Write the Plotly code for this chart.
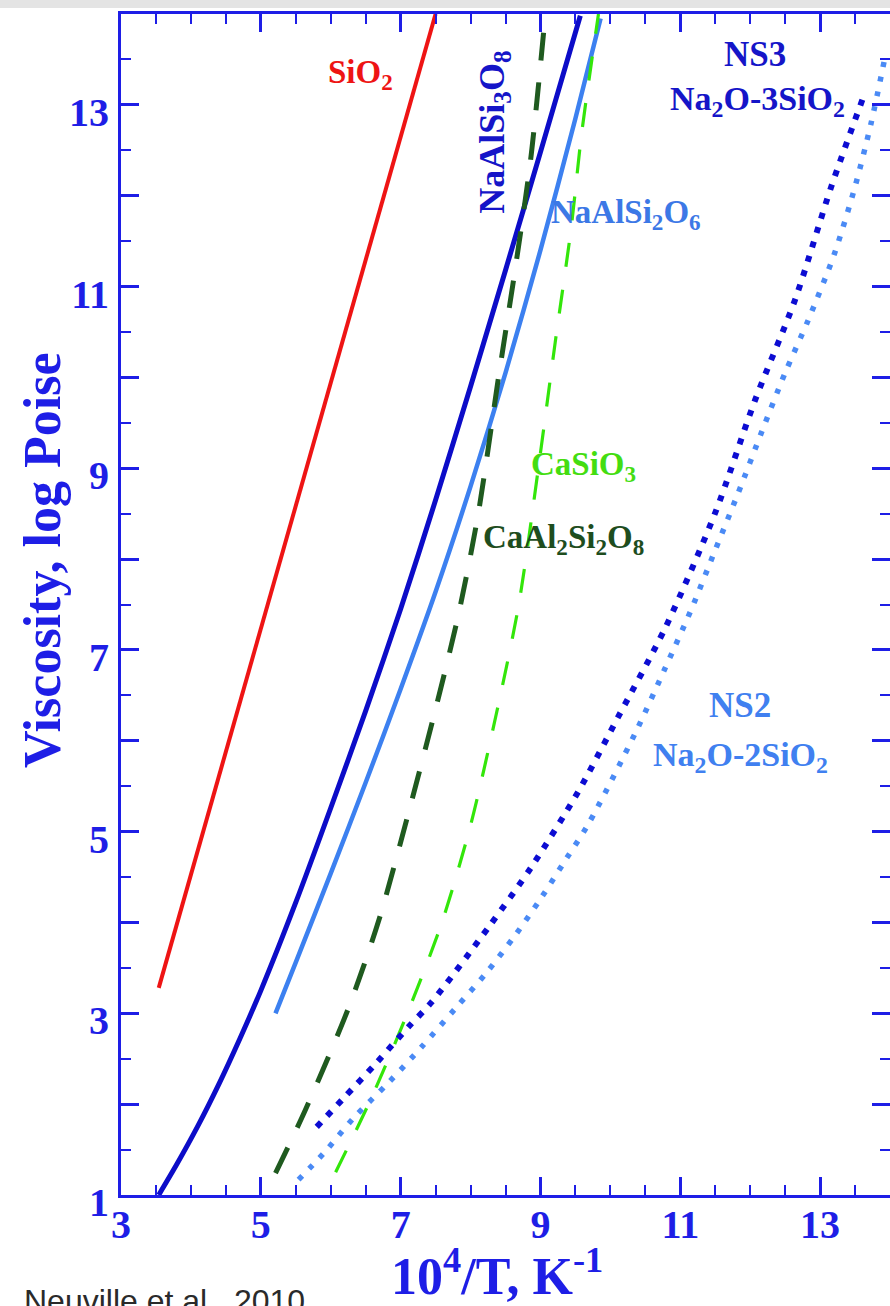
import plotly.graph_objects as go

# ---------------- data ----------------
sio2_x = [3.54, 7.50]
sio2_y = [3.28, 14.0]

ab_x = [3.54, 3.80, 4.10, 4.40, 4.70, 5.00, 5.50, 6.00, 6.50, 7.00, 7.50, 8.00, 8.50, 9.00, 9.57]   # NaAlSi3O8
ab_y = [1.00, 1.34, 1.76, 2.22, 2.72, 3.25, 4.22, 5.26, 6.33, 7.45, 8.65, 9.90, 11.18, 12.48, 13.98]

jd_x = [5.21, 5.50, 6.00, 6.50, 7.00, 7.50, 8.00, 8.50, 9.00, 9.50, 9.86]               # NaAlSi2O6
jd_y = [3.00, 3.56, 4.54, 5.54, 6.57, 7.64, 8.80, 10.05, 11.40, 12.85, 13.95]

an_x = [5.21, 5.64, 6.26, 6.69, 7.11, 7.50, 7.83, 8.11, 8.40, 8.64, 8.86, 9.07]         # CaAl2Si2O8
an_y = [1.24, 1.94, 3.07, 4.03, 5.20, 6.35, 7.40, 8.50, 10.00, 11.20, 12.40, 14.0]

wo_x = [6.07, 6.57, 7.07, 7.59, 8.00, 8.37, 8.69, 8.97, 9.21, 9.44, 9.59, 9.83]         # CaSiO3
wo_y = [1.25, 2.05, 2.95, 4.00, 5.07, 6.30, 7.50, 9.00, 10.38, 11.65, 12.69, 14.0]

ns3_x = [5.80, 6.19, 6.66, 7.11, 7.44, 8.26, 8.87, 9.54, 10.11, 10.79, 11.50, 12.07, 12.64, 13.16, 13.64]
ns3_y = [1.75, 2.07, 2.46, 2.85, 3.12, 3.95, 4.61, 5.44, 6.26, 7.25, 8.51, 9.75, 10.85, 12.10, 13.13]

ns2_x = [5.54, 5.90, 6.33, 6.83, 7.30, 7.79, 8.23, 8.64, 9.01, 9.36, 9.69, 10.36, 10.79,
         11.16, 11.50, 11.83, 12.16, 12.50, 12.83, 13.20, 13.50, 13.73, 13.93]
ns2_y = [1.17, 1.46, 1.85, 2.24, 2.63, 3.06, 3.45, 3.86, 4.27, 4.69, 5.09, 6.09, 6.81,
         7.45, 8.10, 8.73, 9.39, 10.05, 10.63, 11.35, 12.10, 12.80, 13.53]

x_tick_vals = [3, 5, 7, 9, 11, 13]
y_tick_vals = list(range(1, 15))
y_tick_text = [str(v) if v % 2 == 1 else "" for v in y_tick_vals]

# ---------------- styling ----------------
AX = "#1e1ee6"
SERIF = "Liberation Serif, Times New Roman, serif"
L, B, W, H = 121, 1195, 769, 1181   # plot-area geometry in px (left, bottom, width, height)

fig = go.Figure()

def add(x, y, color, width, dash="solid"):
    fig.add_trace(go.Scatter(x=x, y=y, mode="lines",
                             line=dict(color=color, width=width, dash=dash,
                                       shape="spline", smoothing=0.8),
                             showlegend=False, hoverinfo="skip"))

add(sio2_x, sio2_y, "#ee1414", 4)
add(ab_x, ab_y, "#0c0cc8", 5)
add(jd_x, jd_y, "#3c80f0", 4.5)
add(an_x, an_y, "#1f5a1f", 5, "28px,22px")
add(wo_x, wo_y, "#33e60a", 3.2, "24px,23px")
add(ns3_x, ns3_y, "#0c0cd2", 6, "6px,9px")
add(ns2_x, ns2_y, "#4a8af5", 5.5, "5px,10px")

def label(x, y, text, color, size=33, angle=0):
    fig.add_annotation(x=x, y=y, xref="x", yref="y", text=text, showarrow=False,
                       textangle=angle,
                       font=dict(family=SERIF, size=size, color=color, weight="bold"))

label(6.43, 13.33, "SiO<sub>2</sub>", "#ee1414", 33)
label(8.33, 12.70, "NaAlSi<sub>3</sub>O<sub>8</sub>", "#1515c8", 36, -90)
label(10.23, 11.79, "NaAlSi<sub>2</sub>O<sub>6</sub>", "#3c78e6", 33)
label(9.61, 9.02, "CaSiO<sub>3</sub>", "#44dd11", 33)
label(9.33, 8.22, "CaAl<sub>2</sub>Si<sub>2</sub>O<sub>8</sub>", "#1e4d1e", 33)
label(12.07, 13.55, "NS3", "#1515c8", 35)
label(12.11, 13.04, "Na<sub>2</sub>O-3SiO<sub>2</sub>", "#1515c8", 34)
label(11.86, 6.39, "NS2", "#4080f0", 35)
label(11.86, 5.82, "Na<sub>2</sub>O-2SiO<sub>2</sub>", "#4080f0", 34)

# axis titles
fig.add_annotation(xref="paper", yref="paper", x=(497 - L) / W, y=-(1272 - B) / H,
                   xanchor="center", yanchor="middle", showarrow=False,
                   text="10<sup>4</sup>/T, K<sup>-1</sup>",
                   font=dict(family=SERIF, size=52, color=AX, weight="bold"))
fig.add_annotation(xref="paper", yref="paper", x=(42 - L) / W, y=(B - 560) / H,
                   xanchor="center", yanchor="middle", showarrow=False, textangle=-90,
                   text="Viscosity, log Poise",
                   font=dict(family=SERIF, size=52, color=AX, weight="bold"))

fig.add_annotation(xref="paper", yref="paper", x=(22 - L) / W, y=-(1281 - B) / H,
                   xanchor="left", yanchor="top", showarrow=False,
                   text="Neuville et al., 2010",
                   font=dict(family="Liberation Sans, Arial, sans-serif", size=32, color="#2a2a2a"))

axis_common = dict(
    showline=True, linewidth=3, linecolor=AX, mirror="allticks",
    ticks="inside", ticklen=18, tickwidth=2.5, tickcolor=AX,
    showgrid=False, zeroline=False,
    tickfont=dict(family=SERIF, size=40, color=AX, weight="bold"),
)

fig.update_xaxes(range=[3, 14], tickmode="array", tickvals=x_tick_vals,
                 minor=dict(dtick=0.5, tick0=3, ticks="inside", ticklen=10, tickwidth=2,
                            tickcolor=AX, showgrid=False),
                 ticklabelstandoff=-8,
                 **axis_common)
fig.update_yaxes(range=[1, 14], tickmode="array", tickvals=y_tick_vals, ticktext=y_tick_text,
                 minor=dict(dtick=0.5, tick0=1, ticks="inside", ticklen=10, tickwidth=2,
                            tickcolor=AX, showgrid=False),
                 ticklabelstandoff=1, ticklabelshift=7,
                 **axis_common)

fig.add_shape(type="rect", xref="paper", yref="paper", x0=-0.2, x1=1.01,
              y0=1 + 6 / H, y1=1 + 14 / H, fillcolor="#e4e4e4", line_width=0, layer="below")

fig.update_layout(width=890, height=1306,
                  margin=dict(l=L, r=0, t=14, b=111, autoexpand=False),
                  paper_bgcolor="white", plot_bgcolor="white")

fig.write_html("out.html")
